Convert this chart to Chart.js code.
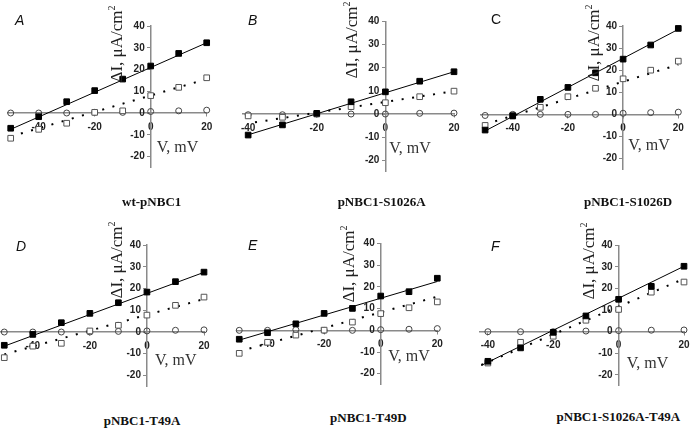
<!DOCTYPE html>
<html>
<head>
<meta charset="utf-8">
<script src="https://cdn.jsdelivr.net/npm/chart.js@4.4.1/dist/chart.umd.min.js"></script>
<style>
  html, body { margin: 0; padding: 0; background: #fff; width: 691px; height: 432px; overflow: hidden; position: relative; }
  canvas { position: absolute; }
  .lbl { position: absolute; font-family: Arial, "Liberation Sans", sans-serif; font-style: italic; font-size: 14px; line-height: 14px; color: #111; }
  .yt { position: absolute; font-family: "Liberation Serif", "Times New Roman", serif; font-size: 17px; line-height: 17px; white-space: nowrap; color: #222; transform: translate(-50%, -50%) rotate(-90deg); }
  .yt sup { font-size: 10px; line-height: 0; vertical-align: 7px; }
  .xt { position: absolute; font-family: "Liberation Serif", "Times New Roman", serif; font-size: 16px; line-height: 16px; white-space: nowrap; color: #333; }
  .cap { position: absolute; font-family: "Liberation Serif", "Times New Roman", serif; font-weight: bold; font-size: 13px; line-height: 13px; white-space: nowrap; color: #111; transform: translateX(-50%); }
</style>
</head>
<body>
<canvas id="pA"></canvas><canvas id="pB"></canvas><canvas id="pC"></canvas>
<canvas id="pD"></canvas><canvas id="pE"></canvas><canvas id="pF"></canvas>

<div class="lbl" style="left:15px;top:13px">A</div>
<div class="lbl" style="left:248px;top:13px">B</div>
<div class="lbl" style="left:491px;top:11.5px;font-style:normal">C</div>
<div class="lbl" style="left:16px;top:239px">D</div>
<div class="lbl" style="left:248px;top:237.5px">E</div>
<div class="lbl" style="left:491px;top:239px">F</div>

<div class="yt" style="left:116px;top:44px">ΔI, μA/cm<sup>2</sup></div>
<div class="yt" style="left:351px;top:40px">ΔI, μA/cm<sup>2</sup></div>
<div class="yt" style="left:592.5px;top:42.5px">ΔI, μA/cm<sup>2</sup></div>
<div class="yt" style="left:116px;top:260px">ΔI, μA/cm<sup>2</sup></div>
<div class="yt" style="left:347.5px;top:263.5px">ΔI, μA/cm<sup>2</sup></div>
<div class="yt" style="left:587.5px;top:261px">ΔI, μA/cm<sup>2</sup></div>

<div class="xt" style="left:156.7px;top:139px">V, mV</div>
<div class="xt" style="left:389.3px;top:140px">V, mV</div>
<div class="xt" style="left:628.3px;top:137.3px">V, mV</div>
<div class="xt" style="left:155px;top:351.5px">V, mV</div>
<div class="xt" style="left:388.3px;top:348.3px">V, mV</div>
<div class="xt" style="left:626.7px;top:355px">V, mV</div>

<div class="cap" style="left:151.7px;top:194.7px">wt-pNBC1</div>
<div class="cap" style="left:381.7px;top:194.7px">pNBC1-S1026A</div>
<div class="cap" style="left:628px;top:194.7px">pNBC1-S1026D</div>
<div class="cap" style="left:142px;top:413.7px">pNBC1-T49A</div>
<div class="cap" style="left:368.3px;top:411px">pNBC1-T49D</div>
<div class="cap" style="left:618.3px;top:409.7px">pNBC1-S1026A-T49A</div>

<script>
// voltages (mV)
const vLong = [-50, -40, -30, -20, -10, 0, 10, 20];
const vShort = [-40, -30, -20, -10, 0, 10, 20];
const xTicks = [-40, -20, 0, 20];
const yTicks = [-20, -10, 0, 10, 20, 30, 40];

// A  wt-pNBC1
const aFilled = [-7.0, -1.7, 5.2, 10.3, 15.6, 21.6, 27.4, 32.3];
const aOpen   = [-11.6, -7.5, -4.7, 0.3, 1.0, 8.0, 11.8, 16.2];
const aCircle = [0, 0, 0, 0.3, 0.3, 0.7, 1.0, 1.3];
const aSolidX = [-50, 20], aSolidY = [-7.5, 32.3];
const aDotX = [-50, 20], aDotY = [-10.8, 15.6];

// B  pNBC1-S1026A
const bFilled = [-9.1, -4.7, 0.3, 5.3, 9.6, 14.2, 18.3];
const bOpen   = [-0.8, -1.4, 0, 3.2, 4.9, 7.5, 9.9];
const bCircle = [-0.3, -0.3, 0, 0, 0, 0.3, 0.4];
const bSolidX = [-40, 20], bSolidY = [-9.0, 18.3];
const bDotX = [-38, 20], bDotY = [-3.6, 9.9];

// C  pNBC1-S1026D
const cFilled = [-7.1, -0.6, 6.8, 12.2, 18.8, 25.0, 31.4, 38.9];
const cOpen   = [-5.0, -0.8, 3.2, 8.0, 11.8, 16.1, 20.0, 24.1];
const cCircle = [-0.5, 0, 0, 0, 0, 0.5, 0.8, 1.0];
const cSolidX = [-50, 20], cSolidY = [-7.5, 38.5];
const cDotX = [-50, 20], cDotY = [-4.5, 22.5];

// D  pNBC1-T49A
const dFilled = [-6.1, -1.1, 4.3, 8.6, 13.5, 18.4, 23.2, 27.6];
const dOpen   = [-11.8, -6.5, -5.2, 0.5, 3.1, 7.8, 12.3, 16.1];
const dCircle = [0, 0, 0, 0, 0.3, 0.5, 0.8, 1.0];
const dSolidX = [-50, 20], dSolidY = [-6.5, 27.5];
const dDotX = [-50, 20], dDotY = [-10.3, 15.2];

// E  pNBC1-T49D
const eFilled = [-4.1, -1.1, 3.0, 7.8, 10.1, 15.8, 17.8, 24.0];
const eOpen   = [-10.6, -5.5, -2.2, 0.1, 3.8, 7.7, 10.4, 13.1];
const eCircle = [0, 0, 0.3, 0, 0, 0.3, 0.5, 0.8];
const eSolidX = [-50, 20], eSolidY = [-4.5, 22.5];
const eDotX = [-50, 20], eDotY = [-9.7, 15.5];

// F  pNBC1-S1026A-T49A
const fFilled = [-13.7, -7.5, -0.3, 7.3, 15.0, 21.0, 30.3];
const fOpen   = [-14.5, -4.9, -2.1, 5.3, 10.3, 18.3, 23.0];
const fCircle = [0, 0, 0, 0.3, 0.5, 0.7, 0.8];
const fSolidX = [-42, 20], fSolidY = [-15.6, 30.3];
const fDotX = [-42, 20], fDotY = [-15.4, 24.5];

Chart.defaults.font.family = '"Liberation Sans", Arial, sans-serif';

const axisGray = '#8a8a8a';
const tickFont = { size: 10, weight: 'bold' };

// y tick labels sit left of the crossing axis; chart.js centres them on it, so draw them here
const yLabels = {
  id: 'yLabels',
  afterDraw(chart) {
    const { ctx, scales: { x, y } } = chart;
    const x0 = x.getPixelForValue(0);
    ctx.save();
    ctx.font = 'bold 10px "Liberation Sans", Arial, sans-serif';
    ctx.fillStyle = '#222';
    ctx.textAlign = 'right';
    ctx.textBaseline = 'middle';
    yTicks.forEach(v => ctx.fillText(String(v), x0 - 6, y.getPixelForValue(v)));
    ctx.restore();
  }
};

function panel(id, box, xMin, xMax, v, filled, open, circ, sx, sy, dx, dy) {
  const cv = document.getElementById(id);
  const pad = 14;
  const left = Math.floor(box.l) - pad, top = Math.floor(box.t) - pad;
  const w = Math.ceil(box.r) + pad - left, h = Math.ceil(box.b) + pad - top;
  cv.width = w; cv.height = h;
  cv.style.left = left + 'px'; cv.style.top = top + 'px';
  cv.style.width = w + 'px'; cv.style.height = h + 'px';

  const pts = ys => v.map((x, i) => ({ x, y: ys[i] }));
  const seg = (xs, ys) => xs.map((x, i) => ({ x, y: ys[i] }));

  new Chart(cv, {
    type: 'scatter',
    data: {
      datasets: [
        { data: pts(filled), pointStyle: 'rect', pointRadius: 4, backgroundColor: '#000', borderColor: '#000', borderWidth: 1, order: 1, clip: false },
        { data: pts(open), pointStyle: 'rect', pointRadius: 4, backgroundColor: '#fff', borderColor: '#555', borderWidth: 1, order: 2, clip: false },
        { data: pts(circ), pointStyle: 'circle', pointRadius: 3, backgroundColor: 'rgba(0,0,0,0)', borderColor: '#444', borderWidth: 1, order: 3, clip: false },
        { type: 'line', data: seg(sx, sy), borderColor: '#000', borderWidth: 1, pointRadius: 0, fill: false, order: 4, clip: false },
        { type: 'line', data: seg(dx, dy), borderColor: '#000', borderWidth: 2, borderDash: [2, 8.6], pointRadius: 0, fill: false, order: 5, clip: false }
      ]
    },
    options: {
      responsive: false,
      animation: false,
      devicePixelRatio: 1,
      layout: { padding: { left: box.l - left, right: left + w - box.r, top: box.t - top, bottom: top + h - box.b } },
      plugins: { legend: { display: false }, tooltip: { enabled: false } },
      scales: {
        x: {
          type: 'linear', min: xMin, max: xMax, position: { y: 0 },
          afterBuildTicks: s => { s.ticks = xTicks.map(value => ({ value })); },
          ticks: { autoSkip: false, maxRotation: 0, font: tickFont, color: '#222', padding: 5 },
          grid: { drawOnChartArea: false, color: axisGray, tickLength: 3 },
          border: { color: axisGray, width: 1.5 }
        },
        y: {
          type: 'linear', min: -25, max: 40, position: { x: 0 },
          afterBuildTicks: s => { s.ticks = yTicks.map(value => ({ value })); },
          ticks: { display: false },
          grid: { drawOnChartArea: false, color: axisGray, tickLength: 3 },
          border: { color: axisGray, width: 1.5 }
        }
      }
    },
    plugins: [yLabels]
  });
}

panel('pA', { l: 7.9, r: 206.7, t: 26, b: 167.4 }, -51, 20, vLong, aFilled, aOpen, aCircle, aSolidX, aSolidY, aDotX, aDotY);
panel('pB', { l: 243, r: 454, t: 21.6, b: 171.8 }, -41.5, 20, vShort, bFilled, bOpen, bCircle, bSolidX, bSolidY, bDotX, bDotY);
panel('pC', { l: 480.7, r: 678.3, t: 26, b: 169.6 }, -51.6, 20, vLong, cFilled, cOpen, cCircle, cSolidX, cSolidY, cDotX, cDotY);
panel('pD', { l: 0, r: 204, t: 245.2, b: 386.3 }, -51.5, 20, vLong, dFilled, dOpen, dCircle, dSolidX, dSolidY, dDotX, dDotY);
panel('pE', { l: 236.7, r: 437.3, t: 243.5, b: 384.6 }, -50.9, 20, vLong, eFilled, eOpen, eCircle, eSolidX, eSolidY, eDotX, eDotY);
panel('pF', { l: 479.7, r: 684, t: 245.3, b: 385.7 }, -42.5, 20, vShort, fFilled, fOpen, fCircle, fSolidX, fSolidY, fDotX, fDotY);
</script>
</body>
</html>
